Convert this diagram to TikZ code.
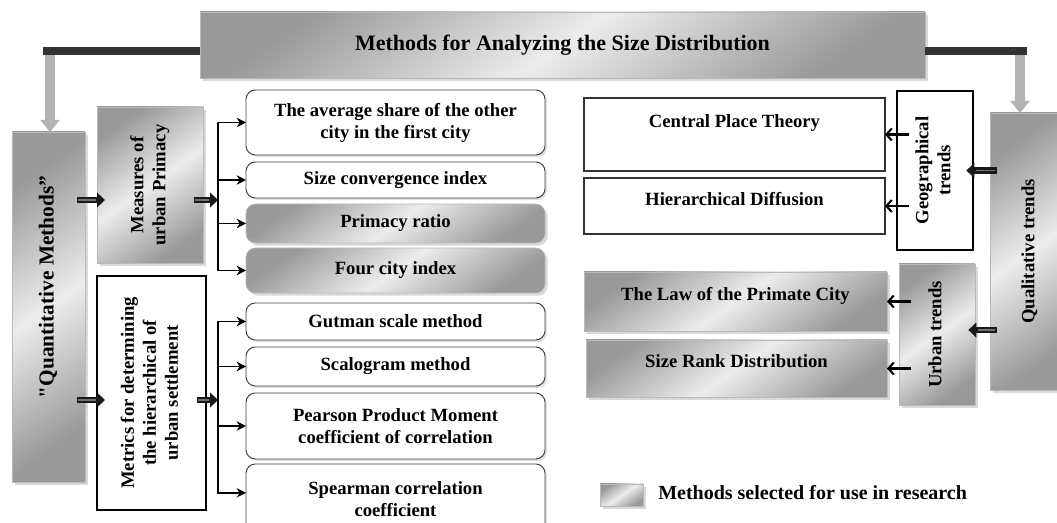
\documentclass[tikz,border=0pt]{standalone}
\usepackage{fontspec}
\setmainfont{Liberation Serif}
\usepackage{graphicx}
\usetikzlibrary{arrows.meta,shadows}

\newcommand{\vtext}[1]{\rotatebox{90}{\begin{tabular}{@{}c@{}}#1\end{tabular}}}

\tikzset{
  box/.style 2 args={minimum width=#1*0.75pt, minimum height=#2*0.75pt, inner sep=2pt, outer sep=0pt,
    align=center, font=\fontsize{14}{16.5}\selectfont\bfseries},
  shadebox/.style={draw=gray!55, top color=gray!80, bottom color=gray!80, middle color=gray!15,
    shading angle=35, drop shadow={shadow xshift=2pt, shadow yshift=-2pt, opacity=.3}},
  roundbox/.style={draw=black!75, line width=.7pt, rounded corners=7pt, fill=white,
    drop shadow={shadow xshift=1.5pt, shadow yshift=-1.5pt, opacity=.25}},
  roundshade/.style={shadebox, rounded corners=7pt},
  thickbox/.style={draw=black, line width=1.6pt, fill=white},
  plainbox/.style={draw=black!80, line width=.8pt, fill=white},
  darkbar/.style={draw=black!80, line width=5.5pt},
  grayarrow/.style={draw=gray!60, line width=7pt, -{Triangle[width=14pt,length=9pt]}},
  dbl/.style={draw=black!90, line width=5pt, -{Triangle[width=11pt,length=6pt]},
    postaction={draw=black!55, -, line width=1.4pt, shorten >=7pt, shorten <=1pt}},
  tree/.style={line width=1.4pt, -{Stealth[length=7pt,width=7pt]}},
  back/.style={line width=1.6pt, -{Straight Barb[length=4pt,width=9pt]}}
}

\begin{document}
\begin{tikzpicture}[x=0.75pt, y=-0.75pt]
\useasboundingbox (0,0) rectangle (1057,523);

% title
\node[box={725}{66}, shadebox, font=\fontsize{16.5}{19}\selectfont\bfseries] (title) at (562.5,45) {Methods for Analyzing the Size Distribution};

% quantitative side
\node[box={73}{350}, shadebox, font=\fontsize{16}{19}\selectfont\bfseries] (quant) at (48.5,307) {\vtext{\hspace*{30pt}\textquotedbl Quantitative Methods''}};
\node[box={106}{156}, shadebox] (measures) at (150,185) {\vtext{Measures of\\urban Primacy}};
\node[box={109}{234}, thickbox] (metrics) at (151.5,393) {\vtext{Metrics for determining\\the hierarchical of\\urban settlement}};

\node[box={299}{65}, roundbox] (avgshare) at (395.5,122.5) {The average share of the other\\city in the first city};
\node[box={299}{36}, roundbox] (sizeconv) at (395.5,180) {Size convergence index};
\node[box={299}{39}, roundshade] (primacy) at (395.5,223.5) {Primacy ratio};
\node[box={299}{45}, roundshade] (fourcity) at (395.5,270.5) {Four city index};
\node[box={299}{37}, roundbox] (gutman) at (395.5,321.5) {Gutman scale method};
\node[box={299}{39}, roundbox] (scalogram) at (395.5,366.5) {Scalogram method};
\node[box={299}{66}, roundbox] (pearson) at (395.5,426) {Pearson Product Moment\\coefficient of correlation};
\node[box={299}{71}, roundbox] (spearman) at (395.5,499.5) {Spearman correlation\\coefficient};

% qualitative side
\node[box={301}{73}, plainbox, text height=10pt, text depth=21pt] (cpt) at (734.5,134.5) {Central Place Theory};
\node[box={301}{56}, plainbox, text height=10pt, text depth=11pt] (hd) at (734.5,206) {Hierarchical Diffusion};
\node[box={76}{159}, thickbox] (geo) at (935,170.5) {\vtext{Geographical\\trends}};
\node[box={80}{277}, shadebox] (qual) at (1030,251.5) {\vtext{Qualitative trends}};
\node[box={76}{141}, shadebox] (urban) at (937,334.5) {\vtext{Urban trends}};
\node[box={303}{59}, shadebox, text height=10pt, text depth=12pt] (law) at (735.5,301.5) {The Law of the Primate City};
\node[box={301}{57}, shadebox, text height=10pt, text depth=11pt] (srd) at (736.5,368.5) {Size Rank Distribution};

% legend
\node[box={43}{22}, shadebox] (key) at (621.5,495) {};
\node[anchor=west, inner sep=0pt, font=\fontsize{15}{18}\selectfont\bfseries] (keytext) at (658,493) {Methods selected for use in research};

% connectors from the title
\coordinate (lc) at (50,51);
\draw[darkbar] (title.west |- lc) -- ([xshift=-5pt]lc);
\draw[grayarrow] ([yshift=-3pt]lc) -- (quant.north -| lc);
\coordinate (rc) at (1020,51);
\draw[darkbar] (title.east |- rc) -- ([xshift=5pt]rc);
\draw[grayarrow] ([yshift=-3pt]rc) -- (qual.north -| rc);

% left brackets
\coordinate (b1) at (218,200);
\coordinate (b2) at (218,400);
\draw[dbl] ([xshift=-6pt]quant.east |- b1) -- ([xshift=6pt]measures.west |- b1);
\draw[dbl] ([xshift=-6pt]quant.east |- b2) -- ([xshift=6pt]metrics.west |- b2);
\draw[dbl] ([xshift=-7pt]measures.east |- b1) -- (b1);
\draw[dbl] ([xshift=-7pt]metrics.east |- b2) -- (b2);
\foreach \n in {avgshare,sizeconv,primacy,fourcity}
  \draw[tree] (b1) |- (\n.west);
\foreach \n in {gutman,scalogram,pearson}
  \draw[tree] (b2) |- (\n.west);
\draw[tree] (b2) |- ([yshift=5pt]spearman.west);

% right side
\foreach \n in {cpt,hd}
  \draw[back] ([xshift=9pt]geo.west |- \n.east) -- (\n.east);
\foreach \n in {law,srd}
  \draw[back] ([xshift=9pt]urban.west |- \n.east) -- (\n.east);
\draw[dbl] ([xshift=5pt]qual.west |- geo.east) -- ([xshift=-5pt]geo.east);
\draw[dbl] ([xshift=5pt]qual.west |- 0,330) -- ([xshift=-5pt]urban.east |- 0,330);
\end{tikzpicture}
\end{document}
